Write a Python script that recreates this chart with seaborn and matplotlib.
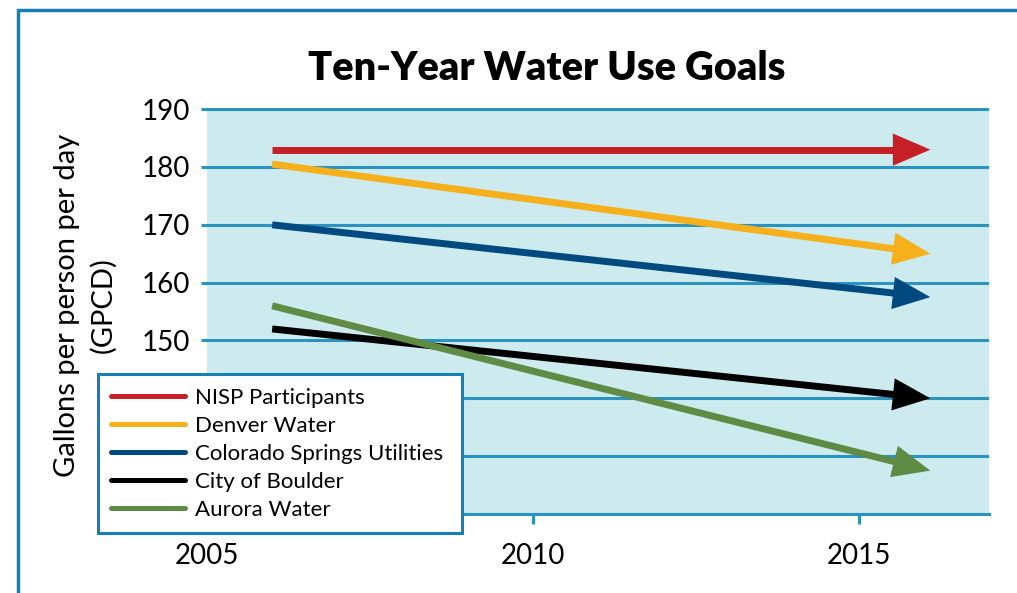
import matplotlib
matplotlib.use('Agg')
import pandas as pd
import matplotlib.pyplot as plt
import seaborn as sns
from matplotlib.lines import Line2D
from matplotlib.patches import Rectangle

# goals: start and target in GPCD
utilities = ['NISP Participants', 'Denver Water', 'Colorado Springs Utilities',
             'City of Boulder', 'Aurora Water']
colors = ['#c61f26', '#f5b01b', '#004a7f', '#000000', '#5f8b45']
start_year = 2006
end_year = 2016.1
gpcd_start = [183, 180.5, 170, 152, 156]
gpcd_end = [183, 165, 157.5, 140, 127.5]
year_ticks = [2005, 2010, 2015]
gpcd_ticks = [120, 130, 140, 150, 160, 170, 180, 190]
gpcd_labels = ['', '', '', '150', '160', '170', '180', '190']

rows = []
for u, a, b in zip(utilities, gpcd_start, gpcd_end):
    rows.append({'utility': u, 'year': start_year, 'gpcd': a})
    rows.append({'utility': u, 'year': end_year, 'gpcd': b})
df = pd.DataFrame(rows)

sns.set_theme(style='white')
plt.rcParams['font.family'] = ['Lato', 'DejaVu Sans']
plt.rcParams['text.color'] = 'black'
plt.rcParams['xtick.labelcolor'] = 'black'
plt.rcParams['ytick.labelcolor'] = 'black'

grid_blue = '#2b93bf'
frame_blue = '#1580b8'

fig = plt.figure(figsize=(10.17, 5.93), dpi=100)
ax = fig.add_axes([207 / 1017, 1 - 514 / 593, (989 - 207) / 1017, 406 / 593])
ax.set_facecolor('#cdebee')

head_years = 0.5
for u, c in zip(utilities, colors):
    sub = df[df['utility'] == u]
    sns.lineplot(data=sub, x='year', y='gpcd', color=c, lw=5, ax=ax, legend=False)
    line = ax.lines[-1]
    line.set_solid_capstyle('butt')
    # stop the shaft under the arrow head so the tip stays sharp
    line.set_clip_path(Rectangle((2000, 100), end_year - head_years - 2000, 120,
                                 transform=ax.transData))
    ax.annotate('', xy=(end_year, sub['gpcd'].iloc[-1]),
                xytext=(start_year, sub['gpcd'].iloc[0]),
                arrowprops=dict(arrowstyle='-|>,head_length=1.35,head_width=0.58',
                                mutation_scale=20, lw=0, color=c,
                                shrinkA=0, shrinkB=0))

ax.set_xlim(2005, 2017)
ax.set_ylim(120, 190.2)
ax.set_xticks(year_ticks)
ax.set_yticks(gpcd_ticks)
ax.set_yticklabels(gpcd_labels)
ax.set_xlabel('')
ax.set_ylabel('')
ax.grid(axis='y', color=grid_blue, lw=2.2)
ax.grid(axis='x', visible=False)
ax.tick_params(axis='y', length=4.5, width=2.2, color=grid_blue, labelsize=20,
               pad=8, left=True)
ax.tick_params(axis='x', length=7, width=2.2, color=grid_blue, labelsize=20,
               pad=14, bottom=True, direction='out')
for s in ['left', 'top', 'right']:
    ax.spines[s].set_visible(False)
ax.spines['bottom'].set_color(grid_blue)
ax.spines['bottom'].set_linewidth(2.2)

handles = [Line2D([], [], color=c, lw=3.6) for c in colors]
leg = ax.legend(handles, utilities, loc='lower left',
                bbox_to_anchor=(-0.1394, -0.0468, 0.4655, 0.39), mode='expand',
                frameon=True, fancybox=False, framealpha=1, fontsize=16,
                handlelength=3.3, handletextpad=0.45, labelspacing=0.36,
                borderpad=0.6, borderaxespad=0)
leg.get_frame().set_edgecolor(frame_blue)
leg.get_frame().set_linewidth(2.2)
leg.set_zorder(10)

fig.text(547 / 1017, 1 - 80 / 593, 'Ten-Year Water Use Goals', ha='center',
         va='baseline', fontsize=28.5, fontweight='heavy')
fig.text(85 / 1017, 1 - 305 / 593, 'Gallons per person per day\n(GPCD)',
         rotation=90, ha='center', va='center', fontsize=21, linespacing=1.45)

# page frame: left and top rules only
fig.add_artist(Line2D([18 / 1017, 18 / 1017], [0, 1 - 10 / 593],
                      transform=fig.transFigure, color=frame_blue, lw=2.5))
fig.add_artist(Line2D([18 / 1017, 1], [1 - 10 / 593, 1 - 10 / 593],
                      transform=fig.transFigure, color=frame_blue, lw=2.5))

fig.savefig('out.png', dpi=100)
